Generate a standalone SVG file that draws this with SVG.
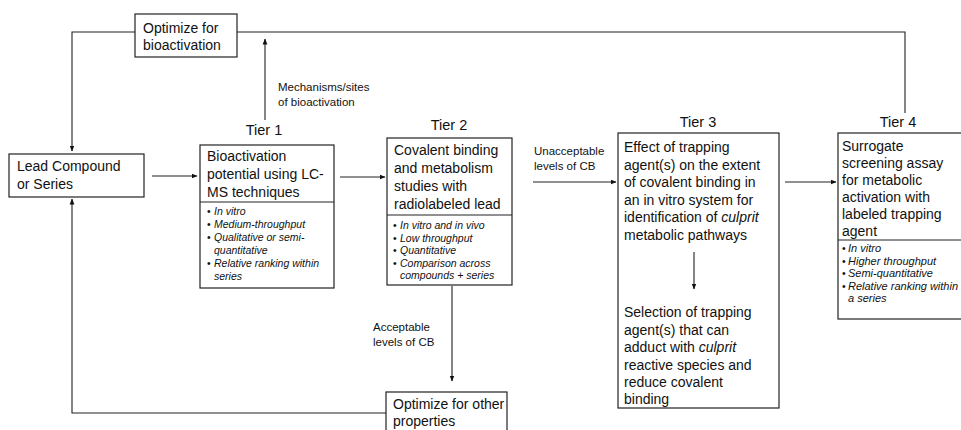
<svg xmlns="http://www.w3.org/2000/svg" width="961" height="430" viewBox="0 0 961 430">
  <defs>
    <marker id="arr" viewBox="0 0 6 6" refX="5.5" refY="3" markerWidth="6" markerHeight="6" markerUnits="userSpaceOnUse" orient="auto">
      <path d="M0,0.6 L6,3 L0,5.4 Z" fill="#111"/>
    </marker>
    <style>
      .box { fill: #fff; stroke: #222; stroke-width: 1.2; }
      .div { stroke: #222; stroke-width: 1; }
      .ln { fill: none; stroke: #222; stroke-width: 1.1; }
      .ar { marker-end: url(#arr); }
      text { font-family: "Liberation Sans", Arial, sans-serif; fill: #111; }
      .main { font-size: 14px; }
      .tier { font-size: 14.5px; }
      .lbl { font-size: 11.5px; }
      .bul { font-size: 10.5px; font-style: italic; }
      .bul4 { font-size: 11px; font-style: italic; }
      .dot { font-size: 10.5px; }
    </style>
  </defs>

  <!-- connectors -->
  <g id="connectors">
    <!-- feedback to bioactivation optimisation -->
    <polyline class="ln" points="905,113 905,32 237,32"/>
    <polyline class="ln ar" points="135,32 72,32 72,151"/>
    <!-- mechanisms/sites -->
    <line class="ln ar" x1="265" y1="120" x2="265" y2="39"/>
    <!-- main flow -->
    <line class="ln ar" x1="152" y1="176" x2="197" y2="176"/>
    <line class="ln ar" x1="340" y1="177" x2="385" y2="177"/>
    <line class="ln ar" x1="533" y1="182" x2="616" y2="182"/>
    <line class="ln ar" x1="785" y1="182" x2="836" y2="182"/>
    <!-- acceptable levels -->
    <line class="ln ar" x1="452" y1="286" x2="452" y2="381"/>
    <!-- feedback from other properties -->
    <polyline class="ln ar" points="386,413 72,413 72,199"/>
    <!-- connector labels -->
    <text class="lbl" x="278" y="91">Mechanisms/sites</text>
    <text class="lbl" x="278" y="106">of bioactivation</text>
    <text class="lbl" x="534" y="155">Unacceptable</text>
    <text class="lbl" x="534" y="170">levels of CB</text>
    <text class="lbl" x="373" y="331">Acceptable</text>
    <text class="lbl" x="373" y="346">levels of CB</text>
  </g>

  <g id="optimize-bioactivation">
    <rect class="box" x="135" y="14" width="102" height="43"/>
    <text class="main" x="143" y="33">Optimize for</text>
    <text class="main" x="143" y="50">bioactivation</text>
  </g>

  <g id="lead">
    <rect class="box" x="9" y="154" width="135" height="43"/>
    <text class="main" x="17" y="171">Lead Compound</text>
    <text class="main" x="17" y="188.5">or Series</text>
  </g>

  <g id="tier1">
    <text class="tier" x="264" y="135" text-anchor="middle">Tier 1</text>
    <rect class="box" x="200" y="145" width="134" height="143"/>
    <line class="div" x1="200" y1="202" x2="334" y2="202"/>
    <text class="main" x="207" y="161">Bioactivation</text>
    <text class="main" x="207" y="179">potential using LC-</text>
    <text class="main" x="207" y="197">MS techniques</text>
    <text class="dot" x="207" y="215">•</text><text class="bul" x="214" y="215">In vitro</text>
    <text class="dot" x="207" y="228">•</text><text class="bul" x="214" y="228">Medium-throughput</text>
    <text class="dot" x="207" y="241">•</text><text class="bul" x="214" y="241">Qualitative or semi-</text>
    <text class="bul" x="214" y="254">quantitative</text>
    <text class="dot" x="207" y="267">•</text><text class="bul" x="214" y="267">Relative ranking within</text>
    <text class="bul" x="214" y="280">series</text>
  </g>

  <g id="tier2">
    <text class="tier" x="449" y="130" text-anchor="middle">Tier 2</text>
    <rect class="box" x="387" y="138" width="125" height="147"/>
    <line class="div" x1="387" y1="215" x2="512" y2="215"/>
    <text class="main" x="394" y="155">Covalent binding</text>
    <text class="main" x="394" y="173">and metabolism</text>
    <text class="main" x="394" y="191">studies with</text>
    <text class="main" x="394" y="209">radiolabeled lead</text>
    <text class="dot" x="393" y="229">•</text><text class="bul" x="400" y="229">In vitro and in vivo</text>
    <text class="dot" x="393" y="241.5">•</text><text class="bul" x="400" y="241.5">Low throughput</text>
    <text class="dot" x="393" y="254">•</text><text class="bul" x="400" y="254">Quantitative</text>
    <text class="dot" x="393" y="266.5">•</text><text class="bul" x="400" y="266.5">Comparison across</text>
    <text class="bul" x="400" y="279">compounds + series</text>
  </g>

  <g id="tier3">
    <text class="tier" x="698" y="127" text-anchor="middle">Tier 3</text>
    <rect class="box" x="618" y="133" width="161" height="275"/>
    <text class="main" x="624" y="152">Effect of trapping</text>
    <text class="main" x="624" y="169.5">agent(s) on the extent</text>
    <text class="main" x="624" y="187">of covalent binding in</text>
    <text class="main" x="624" y="204.5">an in vitro system for</text>
    <text class="main" x="624" y="222">identification of <tspan font-style="italic">culprit</tspan></text>
    <text class="main" x="624" y="239.5">metabolic pathways</text>
    <line class="ln ar" x1="694" y1="252" x2="694" y2="289"/>
    <text class="main" x="624" y="317">Selection of trapping</text>
    <text class="main" x="624" y="334.5">agent(s) that can</text>
    <text class="main" x="624" y="352">adduct with <tspan font-style="italic">culprit</tspan></text>
    <text class="main" x="624" y="369.5">reactive species and</text>
    <text class="main" x="624" y="387">reduce covalent</text>
    <text class="main" x="624" y="404">binding</text>
  </g>

  <g id="tier4">
    <text class="tier" x="898" y="127" text-anchor="middle">Tier 4</text>
    <rect class="box" x="838" y="133" width="130" height="186"/>
    <line class="div" x1="838" y1="240" x2="961" y2="240"/>
    <text class="main" x="842" y="151">Surrogate</text>
    <text class="main" x="842" y="168">screening assay</text>
    <text class="main" x="842" y="185">for metabolic</text>
    <text class="main" x="842" y="202">activation with</text>
    <text class="main" x="842" y="219">labeled trapping</text>
    <text class="main" x="842" y="236">agent</text>
    <text class="dot" x="842" y="252">•</text><text class="bul4" x="848" y="252">In vitro</text>
    <text class="dot" x="842" y="264.5">•</text><text class="bul4" x="848" y="264.5">Higher throughput</text>
    <text class="dot" x="842" y="277">•</text><text class="bul4" x="848" y="277">Semi-quantitative</text>
    <text class="dot" x="842" y="289.5">•</text><text class="bul4" x="848" y="289.5">Relative ranking within</text>
    <text class="bul4" x="848" y="302">a series</text>
  </g>

  <g id="optimize-other">
    <rect class="box" x="386" y="392" width="121" height="40"/>
    <text class="main" x="393" y="409">Optimize for other</text>
    <text class="main" x="393" y="426">properties</text>
  </g>
</svg>
